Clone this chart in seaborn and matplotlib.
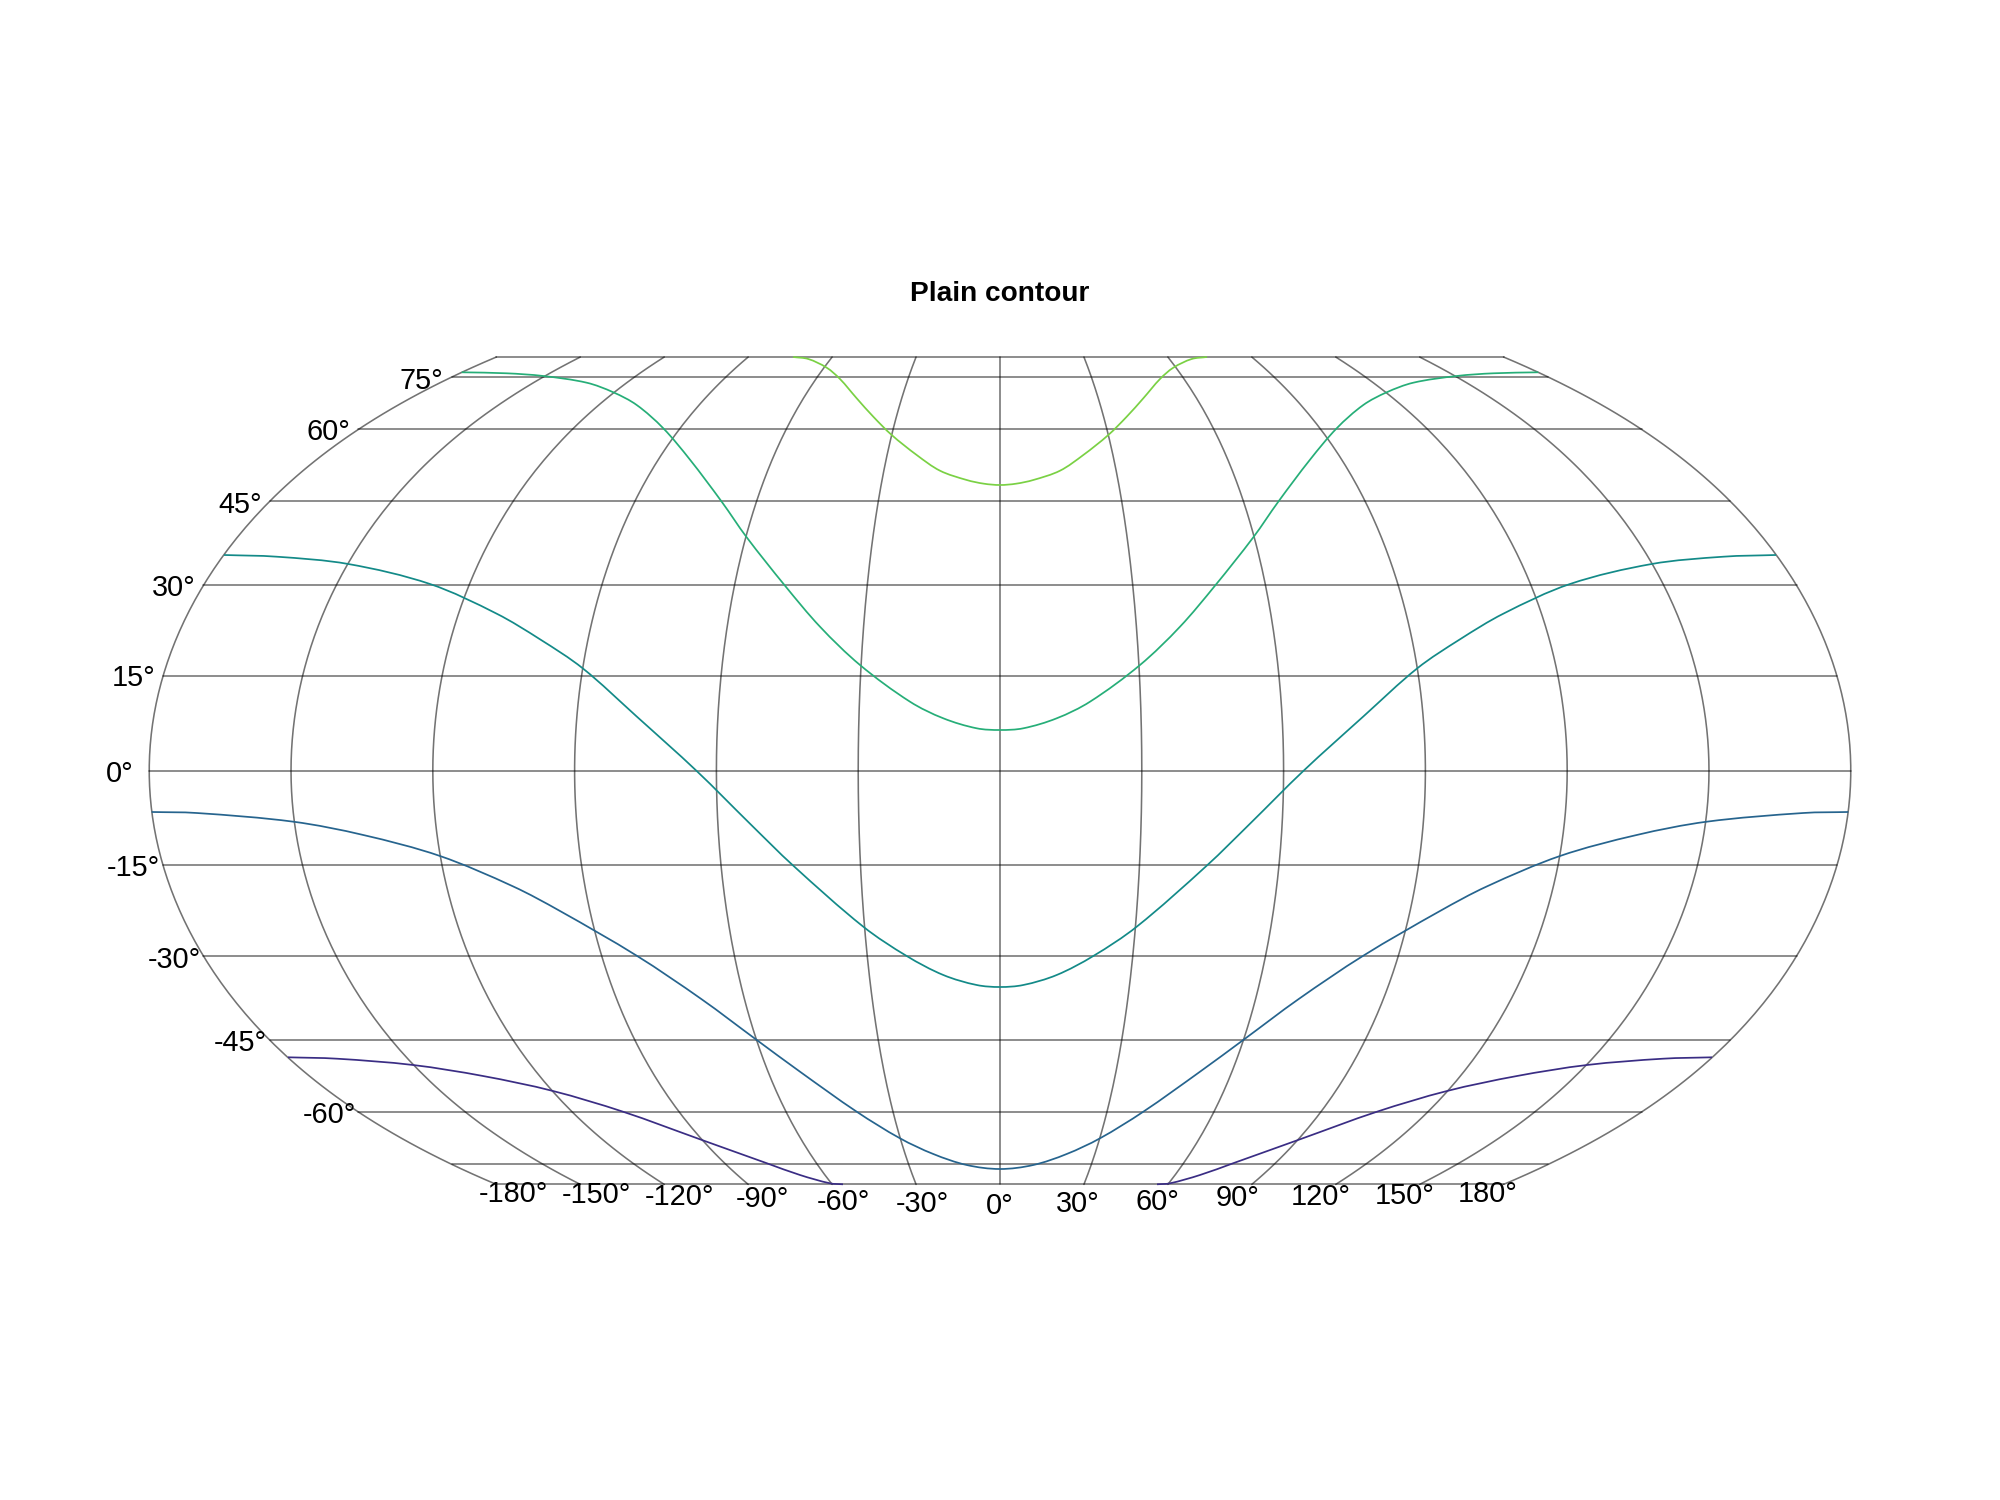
import matplotlib
matplotlib.use('Agg')

import matplotlib.pyplot as plt
from matplotlib.path import Path
from matplotlib.patches import PathPatch
import seaborn as sns
import numpy as np
import pandas as pd

sns.set_theme(style='white')
plt.rcParams['font.family'] = ['Liberation Sans', 'DejaVu Sans']

# map units are reference pixels, measured from the map centre
parallel_lats = [0, 15, 30, 45, 60, 75, 81]
parallel_y = [0, 94.4, 185.4, 269.4, 341.4, 393.4, 413.7]
parallel_halfwidth = [851, 836.7, 796.7, 730, 642, 548, 504]
meridian_lons = [-180, -150, -120, -90, -60, -30, 0, 30, 60, 90, 120, 150, 180]

lat_labels = ['75°', '60°', '45°', '30°', '15°', '0°', '-15°', '-30°', '-45°', '-60°']
lat_label_x = [-578.3, -671.3, -759.7, -826.2, -866.3, -880.4, -866.3, -825.7, -759.2, -670.7]
lat_label_y = [390, 338.2, 266, 182.2, 92.2, -3.5, -97.8, -189, -272.6, -344.5]

lon_labels = ['-180°', '-150°', '-120°', '-90°', '-60°', '-30°', '0°', '30°', '60°', '90°', '120°', '150°', '180°']
lon_label_x = [-486.7, -403.7, -320.7, -238, -156.7, -77.2, -0.2, 77.7, 157.5, 238, 321, 404.5, 488]
lon_label_y = [-423.5, -424.1, -426.3, -428.5, -431.8, -433.8, -435.1, -433.5, -431.8, -427.8, -426.3, -425.3, -423.5]

# contour levels, left half of each curve, the field is symmetric about lon 0
level1_x = [-712, -663, -587, -517, -447, -377, -300, -233, -200, -170, -157]
level1_y = [-286.6, -288, -294.3, -305.3, -320.3, -341, -368.6, -392.6, -404.3, -412.6, -413.6]

level2_x = [-848.3, -803.3, -706.7, -636.7, -560, -486.7, -440, -363.3, -298.3, -245, -200, -143.3, -100, -66.7, -33.3, 0]
level2_y = [-41.3, -42.3, -51, -64.3, -85.3, -115.8, -140.3, -185, -228.6, -268, -301, -341, -367.6, -383.3, -394.3, -398.3]

level3_x = [-776, -723.3, -651.7, -570, -503.3, -460, -417.3, -363.3, -303.3, -250, -206.7, -136.7, -93.3, -56.7, -23.3, 0]
level3_y = [215.7, 214, 206.7, 186.7, 157, 131.4, 102.4, 54.2, -0.3, -53, -95, -156, -185.3, -204.3, -214.3, -216.3]

level4_x = [-538.3, -493.3, -456.7, -413.3, -386.7, -363.3, -336.7, -310, -278.3, -253.3, -215, -180, -140, -90, -56.7, -23.3, 0]
level4_y = [398.4, 397.4, 394.7, 388, 378.4, 365.7, 342.4, 311, 269, 233.4, 185, 144, 105.7, 69, 52.4, 42.4, 40.7]

level5_x = [-207, -191.7, -173.3, -160, -143.3, -126.7, -108.3, -83.3, -60, -33.3, -16, 0]
level5_y = [413.7, 411.7, 403, 391.7, 372.4, 354, 335.7, 315.7, 300, 290.7, 287, 285.7]

level_colors = ['#3a2d84', '#26648e', '#138a88', '#26ae78', '#7ad144']


def mirrored_pieces(xs, ys, joined):
    xs = np.array(xs, dtype=float)
    ys = np.array(ys, dtype=float)
    if joined:
        return [np.c_[np.r_[xs, -xs[-2::-1]], np.r_[ys, ys[-2::-1]]]]
    return [np.c_[xs, ys], np.c_[-xs, ys]]


def smooth_path(pts):
    # bezier through the read points, the points themselves stay as they are
    padded = np.vstack([pts[0], pts, pts[-1]])
    tangents = padded[2:] - padded[:-2]
    tangents = tangents / np.linalg.norm(tangents, axis=1, keepdims=True)
    verts = [pts[0]]
    codes = [Path.MOVETO]
    for i in range(len(pts) - 1):
        step = np.linalg.norm(pts[i + 1] - pts[i]) / 3
        verts += [pts[i] + tangents[i] * step, pts[i + 1] - tangents[i + 1] * step, pts[i + 1]]
        codes += [Path.CURVE4, Path.CURVE4, Path.CURVE4]
    return Path(verts, codes)


contour_levels = [
    mirrored_pieces(level1_x, level1_y, False),
    mirrored_pieces(level2_x, level2_y, True),
    mirrored_pieces(level3_x, level3_y, True),
    mirrored_pieces(level4_x, level4_y, True),
    mirrored_pieces(level5_x, level5_y, True),
]

# the projection: parallels are straight, meridians scale with the parallel width
py = np.array(parallel_y)
pw = np.array(parallel_halfwidth)
width_fit = np.polyfit(py ** 2, pw, 3)

grid_rows = []
sweep = np.linspace(-py[-1], py[-1], 161)
for i, lon in enumerate(meridian_lons):
    grid_rows.append(pd.DataFrame({'x': lon / 180 * np.polyval(width_fit, sweep ** 2), 'y': sweep, 'line': i}))
n = len(meridian_lons)
for j, (y, w) in enumerate(zip(parallel_y, parallel_halfwidth)):
    for sign in ([1] if y == 0 else [1, -1]):
        grid_rows.append(pd.DataFrame({'x': [-w, w], 'y': [sign * y, sign * y], 'line': n + 2 * j + (sign < 0)}))
grid = pd.concat(grid_rows, ignore_index=True)

fig = plt.figure(figsize=(20, 15), dpi=100)
ax = fig.add_axes([0, 0, 1, 1])

sns.lineplot(data=grid, x='x', y='y', units='line', estimator=None, sort=False,
             color='black', alpha=0.55, linewidth=1.15, ax=ax, legend=False)

for pieces, color in zip(contour_levels, level_colors):
    for pts in pieces:
        ax.add_patch(PathPatch(smooth_path(pts), fill=False, edgecolor=color, linewidth=1.25, zorder=3))

for s, x, y in zip(lat_labels, lat_label_x, lat_label_y):
    ax.text(x, y, s, fontsize=20.8, color='black', ha='center', va='center')
for s, x, y in zip(lon_labels, lon_label_x, lon_label_y):
    ax.text(x, y, s, fontsize=20.8, color='black', ha='center', va='center')
ax.text(0, 476.5, 'Plain contour', fontsize=20.2, fontweight='bold', color='black', ha='center', va='center')

ax.set_xlim(-1000, 1000)
ax.set_ylim(-729.3, 770.7)
ax.axis('off')

fig.savefig('out.png', dpi=100)
plt.close(fig)
